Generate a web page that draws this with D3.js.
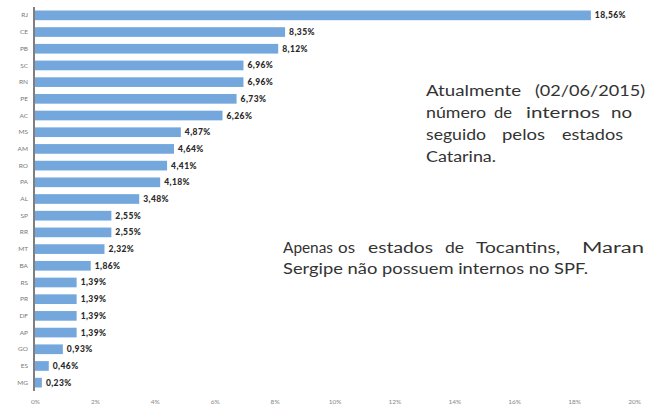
<!DOCTYPE html>
<html>
<head>
<meta charset="utf-8">
<script src="https://cdn.jsdelivr.net/npm/d3@7"></script>
<style>
  body { margin: 0; background: #fff; }
  svg { display: block; }
</style>
</head>
<body>
<div id="chartdiv"></div>
<script>
// internos no SPF por estado (%)
var states = ["RJ","CE","PB","SC","RN","PE","AC","MS","AM","RO","PA","AL","SP","RR","MT","BA","RS","PR","DF","AP","GO","ES","MG"]
var percents = [18.56, 8.35, 8.12, 6.96, 6.96, 6.73, 6.26, 4.87, 4.64, 4.41, 4.18, 3.48, 2.55, 2.55, 2.32, 1.86, 1.39, 1.39, 1.39, 1.39, 0.93, 0.46, 0.23]
var tickValues = [0, 2, 4, 6, 8, 10, 12, 14, 16, 18, 20]

// side notes, one entry per word (text, x start, width)
var note1 = [
    [["Atualmente",426,95],["(02/06/2015)",535,110]],
    [["número",426,60],["de",494,18],["internos",526,74],["no",611,21]],
    [["seguido",426,60],["pelos",502,43],["estados",562,61]],
    [["Catarina.",426,70]]
]
var note2 = [
    [["Apenas",283,50],["os",338,17],["estados",368,65],["de",445,19],["Tocantins,",476,84],["Maran",582,62]],
    [["Sergipe não possuem internos no SPF.",283,305]]
]

var w = 647,
    h = 408;

var svg = d3.select("#chartdiv")
    .append("svg")
    .attr("width", w)
    .attr("height", h)

var x = d3.scaleLinear().domain([0, 20]).range([35, 634])
var y = d3.scaleBand().domain(states).range([7, 391]).paddingInner(0.42).paddingOuter(0.21)

var fmt = function(v){ return v.toFixed(2).replace(".", ",") + "%" }

// bars
svg.selectAll(".bar")
    .data(percents)
    .enter().append("rect")
    .attr("class", "bar")
    .attr("x", x(0))
    .attr("y", function(d, i){ return y(states[i]) })
    .attr("width", function(d){ return x(d) - x(0) })
    .attr("height", y.bandwidth())
    .attr("fill", "#74a8dd")

// value labels
svg.selectAll(".vlabel")
    .data(percents)
    .enter().append("text")
    .attr("class", "vlabel")
    .attr("x", function(d){ return x(d) + 4 })
    .attr("y", function(d, i){ return y(states[i]) + y.bandwidth()/2 + 3 })
    .attr("font-family", "Lato, 'Open Sans', sans-serif")
    .attr("font-weight", "900")
    .attr("font-size", 8.5)
    .attr("letter-spacing", 0.4)
    .attr("fill", "#2a2a2a")
    .text(fmt)

// category axis
var yAxis = svg.append("g")
    .attr("transform", "translate(" + (x(0) - 1) + ",0)")
    .call(d3.axisLeft(y).tickSize(0).tickPadding(6))
yAxis.select(".domain").attr("stroke", "#555").attr("stroke-width", 1.5)
    .attr("d", "M0,7V391")
yAxis.selectAll("text")
    .attr("font-family", "Lato, 'Open Sans', sans-serif")
    .attr("font-size", 6.5)
    .attr("fill", "#777")

// value axis (labels only)
var xAxis = svg.append("g")
    .attr("transform", "translate(0,397)")
    .call(d3.axisBottom(x).tickValues(tickValues).tickSize(0).tickPadding(2).tickFormat(function(d){ return d + "%" }))
xAxis.select(".domain").remove()
xAxis.selectAll("text")
    .attr("font-family", "Lato, 'Open Sans', sans-serif")
    .attr("font-size", 6.5)
    .attr("fill", "#888")

// notes
function drawNote(lines, y0, step){
    lines.forEach(function(words, li){
        words.forEach(function(wd){
            svg.append("text")
                .attr("x", wd[1])
                .attr("y", y0 + li*step)
                .attr("font-family", "Lato, 'Open Sans', sans-serif")
                .attr("font-size", 15.5)
                .attr("fill", "#333")
                .attr("textLength", wd[2])
                .attr("lengthAdjust", "spacingAndGlyphs")
                .text(wd[0])
        })
    })
}
drawNote(note1, 96, 22)
drawNote(note2, 253, 21)
</script>
</body>
</html>
